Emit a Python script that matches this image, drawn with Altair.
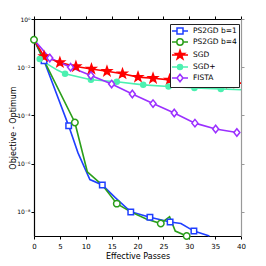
import altair as alt
import pandas as pd

series_names = ["PS2GD b=1", "PS2GD b=4", "SGD", "SGD+", "FISTA"]
colors = ["#1f3fff", "#2a9e1a", "#ff0000", "#4cf0b0", "#9b30ff"]
fills = ["#ffffff", "#ffffff", "#ff0000", "#4cf0b0", "#ffffff"]

b1_x = [0, 1.94, 6.7, 8.5, 10.8, 13.2, 15.7, 18.7, 22.4, 26.3, 28.4, 30.9, 33.9]
b1_y = [1.38e-1, 1.86e-2, 3.7e-5, 2.8e-6, 2.2e-7, 1.3e-7, 3.9e-8, 1.0e-8, 6.0e-9, 3.8e-9, 3.3e-9, 1.6e-9, 1.0e-9]
b1_m = [0, 1, 1, 0, 0, 1, 0, 1, 1, 1, 0, 1, 0]

b4_x = [0, 2.0, 7.9, 10.3, 13.2, 16.0, 18.7, 21.7, 24.5, 26.2, 27.3, 29.5]
b4_y = [1.38e-1, 1.78e-2, 5.1e-5, 4.6e-7, 1.3e-7, 2.2e-8, 1.0e-8, 5.1e-9, 3.3e-9, 6.3e-9, 1.6e-9, 1.0e-9]
b4_m = [1, 0, 1, 0, 0, 1, 0, 0, 1, 0, 0, 1]

sgd_x = [0, 1.94, 5.0, 8.1, 11.1, 14.1, 17.1, 20.1, 23.0, 26.2, 29.1, 32.1, 35.0, 37.9, 40]
sgd_y = [1.38e-1, 2.8e-2, 1.58e-2, 1.07e-2, 8.5e-3, 6.8e-3, 5.4e-3, 3.9e-3, 3.5e-3, 3.0e-3, 2.8e-3, 2.6e-3, 2.45e-3, 2.2e-3, 2.2e-3]
sgd_m = [0, 1, 1, 1, 1, 1, 1, 1, 1, 1, 1, 1, 1, 1, 0]

sgdp_x = [1.1, 3.0, 4.5, 6.0, 11.0, 16.0, 21.1, 26.0, 31.0, 36.1, 40]
sgdp_y = [2.2e-2, 1.2e-2, 7.6e-3, 5.4e-3, 3.0e-3, 2.5e-3, 1.86e-3, 1.58e-3, 1.38e-3, 1.26e-3, 1.17e-3]
sgdp_m = [1, 0, 0, 1, 1, 1, 1, 1, 1, 1, 0]

fista_x = [0, 3.05, 7.07, 11.0, 15.0, 19.0, 23.0, 27.1, 31.1, 35.1, 39.2]
fista_y = [1.38e-1, 2.4e-2, 1.0e-2, 4.5e-3, 2.0e-3, 7.8e-4, 3.1e-4, 1.26e-4, 4.8e-5, 2.75e-5, 1.95e-5]
fista_m = [0, 1, 1, 1, 1, 1, 1, 1, 1, 1, 1]

x_ticks = [0, 5, 10, 15, 20, 25, 30, 35, 40]
y_ticks = [1, 1e-2, 1e-4, 1e-6, 1e-8]

rows = []
for name, xs, ys, ms in [
    (series_names[0], b1_x, b1_y, b1_m),
    (series_names[1], b4_x, b4_y, b4_m),
    (series_names[2], sgd_x, sgd_y, sgd_m),
    (series_names[3], sgdp_x, sgdp_y, sgdp_m),
    (series_names[4], fista_x, fista_y, fista_m),
]:
    for i, (xv, yv, mv) in enumerate(zip(xs, ys, ms)):
        rows.append({"series": name, "x": xv, "y": yv, "m": mv, "o": i})
df = pd.DataFrame(rows)

FONT = "DejaVu Sans"
xscale = alt.Scale(domain=[0, 40], nice=False, zero=False)
yscale = alt.Scale(type="log", domain=[1e-9, 1], nice=False)

star = "M0,-1L0.235,-0.324L0.951,-0.309L0.38,0.124L0.588,0.809L0,0.4L-0.588,0.809L-0.38,0.124L-0.951,-0.309L-0.235,-0.324Z"
marker_shapes = ["M-1,-1H1V1H-1Z", "circle", star, "circle", "M0,-1L0.8,0L0,1L-0.8,0Z"]
marker_sizes = [30, 42, 90, 25, 56]

def circ(r):
    return f"M{-r},0A{r},{r} 0 1,0 {r},0A{r},{r} 0 1,0 {-r},0Z"

legend_shapes = [
    "M-2,0H-0.75M0.75,0H2M-0.75,-0.75H0.75V0.75H-0.75Z",
    "M-2,0H-0.8M0.8,0H2" + circ(0.8),
    "M-2,0H2M0,-1.2L0.28,-0.39L1.14,-0.37L0.46,0.15L0.71,0.97L0,0.48L-0.71,0.97L-0.46,0.15L-1.14,-0.37L-0.28,-0.39Z",
    "M-2,0H2" + circ(0.62),
    "M-2,0H-0.75M0.75,0H2M0,-0.94L0.75,0L0,0.94L-0.75,0Z",
]

layers = []
for i, name in enumerate(series_names):
    if i == 0:
        xenc = alt.X("x:Q", scale=xscale, title="Effective Passes",
                     axis=alt.Axis(values=x_ticks, orient="bottom", grid=False, labelFlush=False,
                                   tickSize=3, labelPadding=3, titlePadding=3))
        yenc = alt.Y("y:Q", scale=yscale, title="Objective - Optimum",
                     axis=alt.Axis(values=y_ticks, orient="left", grid=False, tickSize=3,
                                   labelPadding=1, titleX=-16.5, labelFontSize=6,
                                   labelExpr="'10' + {'0':'⁰','-2':'⁻²','-4':'⁻⁴','-6':'⁻⁶','-8':'⁻⁸'}[toString(round(log(datum.value)/LN10))]"))
    else:
        xenc = alt.X("x:Q", scale=xscale, axis=None)
        yenc = alt.Y("y:Q", scale=yscale, axis=None)
    layers.append(
        alt.Chart(df).transform_filter(alt.datum.series == name)
        .mark_line(strokeWidth=1.6, stroke=colors[i])
        .encode(x=xenc, y=yenc, order="o:Q")
    )

for i, name in enumerate(series_names):
    layers.append(
        alt.Chart(df).transform_filter(
            (alt.datum.series == name) & (alt.datum.m == 1)
        ).mark_point(
            shape=marker_shapes[i], size=marker_sizes[i], stroke=colors[i],
            fill=fills[i], fillOpacity=1, strokeWidth=1.5, opacity=1
        ).encode(
            x=alt.X("x:Q", scale=xscale, axis=None),
            y=alt.Y("y:Q", scale=yscale, axis=None),
        )
    )

leg = alt.Legend(
    title=None, orient="none", legendX=136, legendY=5, padding=2,
    strokeColor="#222222", fillColor="#ffffff", symbolSize=64,
    symbolStrokeWidth=1.5, symbolOffset=3, labelOffset=8, rowPadding=-2,
    labelFont=FONT, labelFontSize=7.5, labelColor="#000000",
)
legend_layer = alt.Chart(df).transform_filter("false").mark_point(strokeWidth=1.5, fillOpacity=1).encode(
    x=alt.X("x:Q", scale=xscale,
            axis=alt.Axis(orient="top", values=x_ticks, labels=False, title=None, grid=False, tickSize=3)),
    y=alt.Y("y:Q", scale=yscale,
            axis=alt.Axis(orient="right", values=y_ticks, labels=False, title=None, grid=False, tickSize=3,
                          domainColor="#999999", tickColor="#999999")),
    shape=alt.Shape("series:N", scale=alt.Scale(domain=series_names, range=legend_shapes), legend=leg),
    stroke=alt.Stroke("series:N", scale=alt.Scale(domain=series_names, range=colors), legend=leg),
    fill=alt.Fill("series:N", scale=alt.Scale(domain=series_names, range=fills), legend=leg),
)
layers.append(legend_layer)

chart = alt.layer(*layers).resolve_axis(
    x="independent", y="independent"
).properties(
    width=207, height=217,
    padding={"left": 26, "top": 11, "right": 10, "bottom": 28},
    autosize=alt.AutoSizeParams(type="none"),
).configure_view(stroke=None).configure_axis(
    labelFont=FONT, labelFontSize=7, titleFont=FONT, titleFontSize=8,
    titleFontWeight="normal", domainColor="#000000", tickColor="#000000",
    labelColor="#000000", titleColor="#000000", domainWidth=1.2,
)

chart.save("out.html", embed_options={"renderer": "svg", "actions": False})
